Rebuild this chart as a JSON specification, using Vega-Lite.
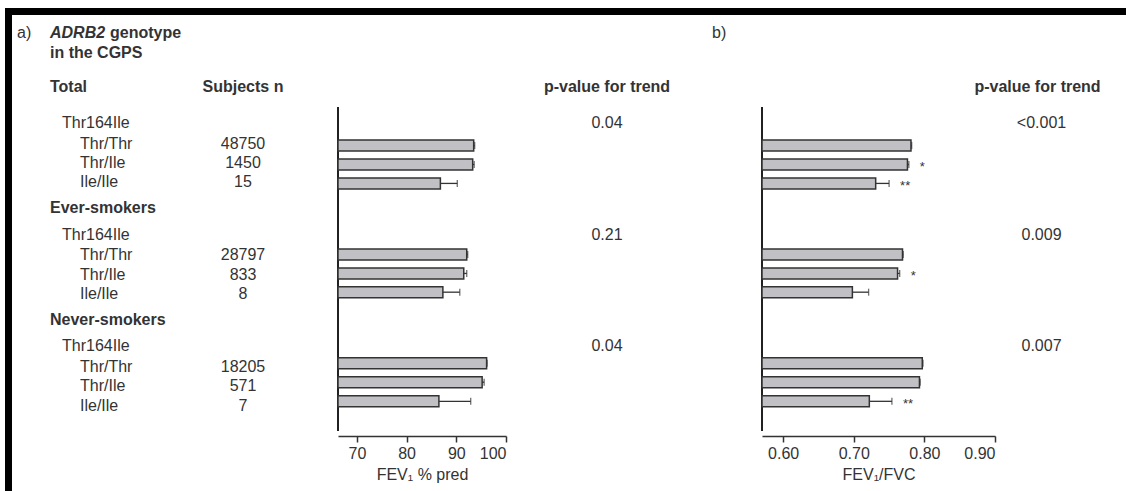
{
  "$schema": "https://vega.github.io/schema/vega-lite/v6.json",
  "padding": {"left": 5, "top": 8, "right": 0, "bottom": 0},
  "background": "white",
  "config": {
    "view": {"stroke": null},
    "font": "Liberation Sans",
    "text": {"font": "Liberation Sans", "fontSize": 16, "color": "#333", "baseline": "middle"},
    "axis": {"domainColor": "#333", "tickColor": "#333", "labelColor": "#333", "titleColor": "#333", "labelFont": "Liberation Sans", "titleFont": "Liberation Sans", "labelFontSize": 16, "titleFontSize": 16, "titleFontWeight": "normal", "tickSize": 6, "labelPadding": 3, "titlePadding": 5, "domainWidth": 1.5, "tickWidth": 1.5, "grid": false}
  },
  "datasets": {
    "table": [
      {"kind": "panel", "label": "a)", "row": 0.9},
      {"kind": "gene", "label": "ADRB2", "row": 0.9},
      {"kind": "genetail", "label": "genotype", "row": 0.9},
      {"kind": "title", "label": "in the CGPS", "row": 1.9},
      {"kind": "panelb", "label": "b)", "row": 0.9},
      {"group": "Total", "kind": "group", "label": "Total", "n": "Subjects n", "p1": "p-value for trend", "p2": "p-value for trend", "row": 3.6},
      {"group": "Total", "kind": "snp", "label": "Thr164Ile", "p1": "0.04", "p2": "<0.001", "row": 5.4},
      {"group": "Total", "kind": "geno", "label": "Thr/Thr", "n": "48750", "fev": 93.5, "fevHi": 93.7, "ratio": 0.781, "ratioHi": 0.782, "row": 6.43},
      {"group": "Total", "kind": "geno", "label": "Thr/Ile", "n": "1450", "fev": 93.3, "fevHi": 93.6, "ratio": 0.776, "ratioHi": 0.778, "sig": "*", "row": 7.4},
      {"group": "Total", "kind": "geno", "label": "Ile/Ile", "n": "15", "fev": 86.8, "fevHi": 90.2, "ratio": 0.731, "ratioHi": 0.75, "sig": "**", "row": 8.37},
      {"group": "Ever-smokers", "kind": "group", "label": "Ever-smokers", "row": 9.67},
      {"group": "Ever-smokers", "kind": "snp", "label": "Thr164Ile", "p1": "0.21", "p2": "0.009", "row": 10.98},
      {"group": "Ever-smokers", "kind": "geno", "label": "Thr/Thr", "n": "28797", "fev": 92.1, "fevHi": 92.3, "ratio": 0.769, "ratioHi": 0.77, "row": 12.01},
      {"group": "Ever-smokers", "kind": "geno", "label": "Thr/Ile", "n": "833", "fev": 91.5, "fevHi": 92.1, "ratio": 0.762, "ratioHi": 0.765, "sig": "*", "row": 12.98},
      {"group": "Ever-smokers", "kind": "geno", "label": "Ile/Ile", "n": "8", "fev": 87.3, "fevHi": 90.7, "ratio": 0.698, "ratioHi": 0.721, "row": 13.94},
      {"group": "Never-smokers", "kind": "group", "label": "Never-smokers", "row": 15.25},
      {"group": "Never-smokers", "kind": "snp", "label": "Thr164Ile", "p1": "0.04", "p2": "0.007", "row": 16.55},
      {"group": "Never-smokers", "kind": "geno", "label": "Thr/Thr", "n": "18205", "fev": 96.1, "fevHi": 96.2, "ratio": 0.797, "ratioHi": 0.798, "row": 17.58},
      {"group": "Never-smokers", "kind": "geno", "label": "Thr/Ile", "n": "571", "fev": 95.2, "fevHi": 95.6, "ratio": 0.793, "ratioHi": 0.794, "row": 18.55},
      {"group": "Never-smokers", "kind": "geno", "label": "Ile/Ile", "n": "7", "fev": 86.5, "fevHi": 92.9, "ratio": 0.722, "ratioHi": 0.754, "sig": "**", "row": 19.53}
    ]
  },
  "spacing": 0,
  "bounds": "flush",
  "vconcat": [
    {"width": 1121, "height": 7, "view": {"fill": "black", "stroke": null}, "data": {"values": [{}]}, "mark": {"type": "text", "text": "", "fontSize": 1}},
    {
      "spacing": 0,
      "bounds": "flush",
      "resolve": {"scale": {"x": "independent", "y": "independent"}},
      "hconcat": [
        {"width": 7, "height": 476, "view": {"fill": "black", "stroke": null}, "data": {"values": [{}]}, "mark": {"type": "text", "text": "", "fontSize": 1}},
        {
          "width": 231, "height": 421,
          "data": {"name": "table"},
          "encoding": {"y": {"field": "row", "type": "quantitative", "scale": {"domain": [0, 21.05], "reverse": true, "nice": false, "zero": false}, "axis": null}},
          "layer": [
            {"transform": [{"filter": "datum.kind == 'panel'"}], "mark": {"type": "text", "align": "left", "dx": 5}, "encoding": {"x": {"datum": "Genotype", "type": "nominal", "scale": {"type": "point", "domain": ["Genotype", "Subjects n"], "padding": 0}, "axis": null}, "text": {"field": "label"}}},
            {"transform": [{"filter": "datum.kind == 'gene'"}], "mark": {"type": "text", "align": "left", "dx": 38, "fontWeight": "bold", "fontStyle": "italic"}, "encoding": {"x": {"datum": "Genotype", "type": "nominal", "scale": {"type": "point", "domain": ["Genotype", "Subjects n"], "padding": 0}, "axis": null}, "text": {"field": "label"}}},
            {"transform": [{"filter": "datum.kind == 'genetail'"}], "mark": {"type": "text", "align": "left", "dx": 98, "fontWeight": "bold"}, "encoding": {"x": {"datum": "Genotype", "type": "nominal", "scale": {"type": "point", "domain": ["Genotype", "Subjects n"], "padding": 0}, "axis": null}, "text": {"field": "label"}}},
            {"transform": [{"filter": "datum.kind == 'title' || datum.kind == 'group'"}], "mark": {"type": "text", "align": "left", "dx": 38, "fontWeight": "bold"}, "encoding": {"x": {"datum": "Genotype", "type": "nominal", "scale": {"type": "point", "domain": ["Genotype", "Subjects n"], "padding": 0}, "axis": null}, "text": {"field": "label"}}},
            {"transform": [{"filter": "datum.kind == 'snp'"}], "mark": {"type": "text", "align": "left", "dx": 50}, "encoding": {"x": {"datum": "Genotype", "type": "nominal", "scale": {"type": "point", "domain": ["Genotype", "Subjects n"], "padding": 0}, "axis": null}, "text": {"field": "label"}}},
            {"transform": [{"filter": "datum.kind == 'geno'"}], "mark": {"type": "text", "align": "left", "dx": 68}, "encoding": {"x": {"datum": "Genotype", "type": "nominal", "scale": {"type": "point", "domain": ["Genotype", "Subjects n"], "padding": 0}, "axis": null}, "text": {"field": "label"}}},
            {"transform": [{"filter": "datum.kind == 'group' && datum.n != null"}], "mark": {"type": "text", "align": "center", "fontWeight": "bold"}, "encoding": {"x": {"datum": "Subjects n", "type": "nominal", "scale": {"type": "point", "domain": ["Genotype", "Subjects n"], "padding": 0}, "axis": null}, "text": {"field": "n"}}},
            {"transform": [{"filter": "datum.kind == 'geno'"}], "mark": {"type": "text", "align": "center"}, "encoding": {"x": {"datum": "Subjects n", "type": "nominal", "scale": {"type": "point", "domain": ["Genotype", "Subjects n"], "padding": 0}, "axis": null}, "text": {"field": "n"}}}
          ]
        },
        {"width": 95, "height": 421, "data": {"values": [{}]}, "mark": {"type": "text", "text": "", "fontSize": 1}},
        {
          "width": 168, "height": 421,
          "data": {"name": "table"},
          "encoding": {"y": {"field": "row", "type": "quantitative", "scale": {"domain": [0, 21.05], "reverse": true, "nice": false, "zero": false}, "axis": null}},
          "layer": [
            {"mark": {"type": "rule", "color": "#222", "strokeWidth": 1.5}, "encoding": {"x": {"datum": 66.2, "type": "quantitative", "scale": {"domain": [66.2, 100], "nice": false, "zero": false}, "axis": {"values": [70, 80, 90, 100], "title": "FEV₁ % pred"}}, "y": {"datum": 4.5, "type": "quantitative"}, "y2": {"datum": 21.05}}},
            {"transform": [{"filter": "datum.fev != null"}], "mark": {"type": "bar", "orient": "horizontal", "size": 11, "fill": "#c1c1c5", "stroke": "#333", "strokeWidth": 1.5}, "encoding": {"x": {"field": "fev", "type": "quantitative", "scale": {"domain": [66.2, 100], "nice": false, "zero": false}, "axis": {"values": [70, 80, 90, 100], "title": "FEV₁ % pred"}}, "x2": {"datum": 66.2}}},
            {"transform": [{"filter": "datum.fev != null"}], "mark": {"type": "rule", "color": "#333", "strokeWidth": 1.3}, "encoding": {"x": {"field": "fev", "type": "quantitative", "scale": {"domain": [66.2, 100], "nice": false, "zero": false}, "axis": {"values": [70, 80, 90, 100], "title": "FEV₁ % pred"}}, "x2": {"field": "fevHi"}}},
            {"transform": [{"filter": "datum.fev != null"}], "mark": {"type": "tick", "orient": "vertical", "color": "#333", "size": 7, "thickness": 1.3}, "encoding": {"x": {"field": "fevHi", "type": "quantitative", "scale": {"domain": [66.2, 100], "nice": false, "zero": false}, "axis": {"values": [70, 80, 90, 100], "title": "FEV₁ % pred"}}}},
            {"mark": {"type": "text", "text": "//", "fontSize": 9, "align": "left", "baseline": "bottom", "dx": 2, "dy": 1}, "data": {"values": [{}]}, "encoding": {"x": {"datum": 66.2, "type": "quantitative", "scale": {"domain": [66.2, 100], "nice": false, "zero": false}, "axis": {"values": [70, 80, 90, 100], "title": "FEV₁ % pred"}}, "y": {"datum": 21.05, "type": "quantitative"}}}
          ]
        },
        {
          "width": 256, "height": 421,
          "data": {"name": "table"},
          "encoding": {"y": {"field": "row", "type": "quantitative", "scale": {"domain": [0, 21.05], "reverse": true, "nice": false, "zero": false}, "axis": null}},
          "layer": [
            {"transform": [{"filter": "datum.kind == 'group' && datum.p1 != null"}], "mark": {"type": "text", "align": "center", "fontWeight": "bold", "dx": -27}, "encoding": {"text": {"field": "p1"}}},
            {"transform": [{"filter": "datum.kind == 'snp'"}], "mark": {"type": "text", "align": "center", "dx": -27}, "encoding": {"text": {"field": "p1"}}},
            {"transform": [{"filter": "datum.kind == 'panelb'"}], "mark": {"type": "text", "align": "left", "dx": 78}, "encoding": {"text": {"field": "label"}}}
          ]
        },
        {
          "width": 233, "height": 421,
          "data": {"name": "table"},
          "encoding": {"y": {"field": "row", "type": "quantitative", "scale": {"domain": [0, 21.05], "reverse": true, "nice": false, "zero": false}, "axis": null}},
          "layer": [
            {"mark": {"type": "rule", "color": "#222", "strokeWidth": 1.5}, "encoding": {"x": {"datum": 0.57, "type": "quantitative", "scale": {"domain": [0.57, 0.9], "nice": false, "zero": false}, "axis": {"values": [0.6, 0.7, 0.8, 0.9], "format": ".2f", "title": "FEV₁/FVC"}}, "y": {"datum": 4.5, "type": "quantitative"}, "y2": {"datum": 21.05}}},
            {"transform": [{"filter": "datum.ratio != null"}], "mark": {"type": "bar", "orient": "horizontal", "size": 11, "fill": "#c1c1c5", "stroke": "#333", "strokeWidth": 1.5}, "encoding": {"x": {"field": "ratio", "type": "quantitative", "scale": {"domain": [0.57, 0.9], "nice": false, "zero": false}, "axis": {"values": [0.6, 0.7, 0.8, 0.9], "format": ".2f", "title": "FEV₁/FVC"}}, "x2": {"datum": 0.57}}},
            {"transform": [{"filter": "datum.ratio != null"}], "mark": {"type": "rule", "color": "#333", "strokeWidth": 1.3}, "encoding": {"x": {"field": "ratio", "type": "quantitative", "scale": {"domain": [0.57, 0.9], "nice": false, "zero": false}, "axis": {"values": [0.6, 0.7, 0.8, 0.9], "format": ".2f", "title": "FEV₁/FVC"}}, "x2": {"field": "ratioHi"}}},
            {"transform": [{"filter": "datum.ratio != null"}], "mark": {"type": "tick", "orient": "vertical", "color": "#333", "size": 7, "thickness": 1.3}, "encoding": {"x": {"field": "ratioHi", "type": "quantitative", "scale": {"domain": [0.57, 0.9], "nice": false, "zero": false}, "axis": {"values": [0.6, 0.7, 0.8, 0.9], "format": ".2f", "title": "FEV₁/FVC"}}}},
            {"transform": [{"filter": "datum.sig != null"}], "mark": {"type": "text", "align": "left", "dx": 11, "dy": 3, "fontSize": 13}, "encoding": {"x": {"field": "ratioHi", "type": "quantitative", "scale": {"domain": [0.57, 0.9], "nice": false, "zero": false}, "axis": {"values": [0.6, 0.7, 0.8, 0.9], "format": ".2f", "title": "FEV₁/FVC"}}, "text": {"field": "sig"}}},
            {"mark": {"type": "text", "text": "//", "fontSize": 9, "align": "left", "baseline": "bottom", "dx": 2, "dy": 1}, "data": {"values": [{}]}, "encoding": {"x": {"datum": 0.57, "type": "quantitative", "scale": {"domain": [0.57, 0.9], "nice": false, "zero": false}, "axis": {"values": [0.6, 0.7, 0.8, 0.9], "format": ".2f", "title": "FEV₁/FVC"}}, "y": {"datum": 21.05, "type": "quantitative"}}}
          ]
        },
        {
          "width": 131, "height": 421,
          "data": {"name": "table"},
          "encoding": {"y": {"field": "row", "type": "quantitative", "scale": {"domain": [0, 21.05], "reverse": true, "nice": false, "zero": false}, "axis": null}},
          "layer": [
            {"transform": [{"filter": "datum.kind == 'group' && datum.p2 != null"}], "mark": {"type": "text", "align": "center", "fontWeight": "bold", "dx": -23}, "encoding": {"text": {"field": "p2"}}},
            {"transform": [{"filter": "datum.kind == 'snp'"}], "mark": {"type": "text", "align": "center", "dx": -19}, "encoding": {"text": {"field": "p2"}}}
          ]
        }
      ]
    }
  ]
}
